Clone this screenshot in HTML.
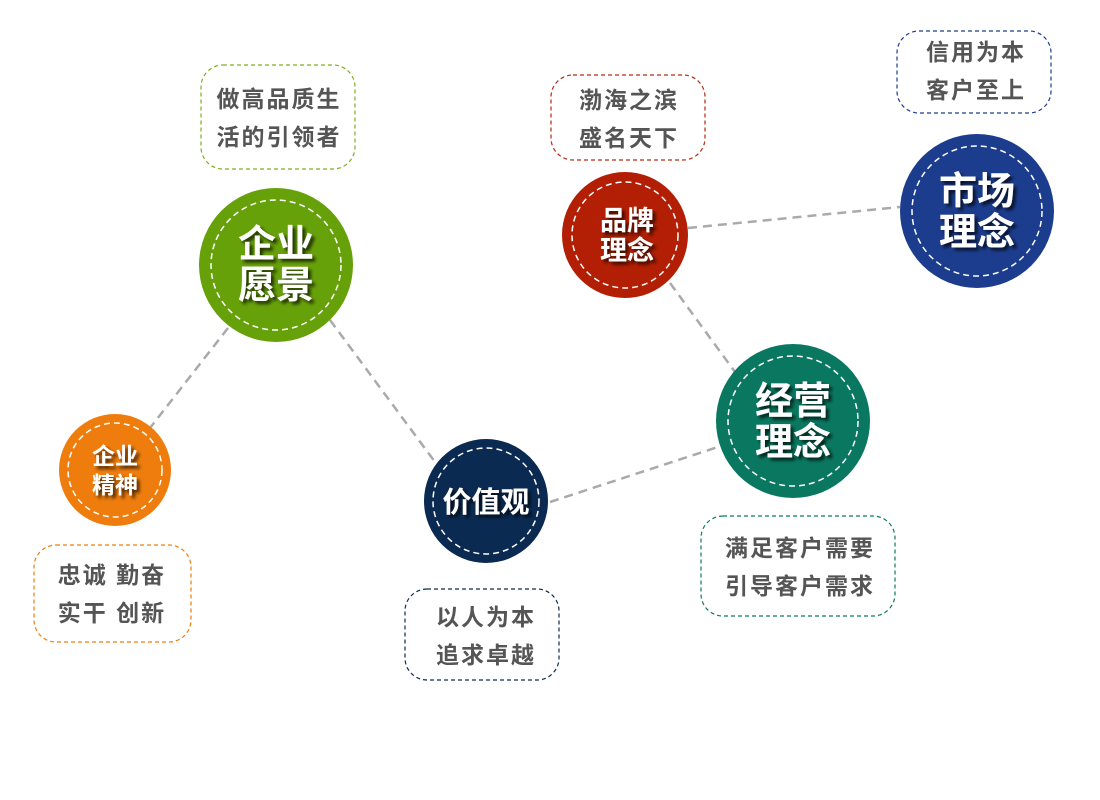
<!DOCTYPE html>
<html><head><meta charset="utf-8"><style>
html,body{margin:0;padding:0;background:#fff;width:1100px;height:800px;overflow:hidden}
svg{display:block}
.c{font-family:"Liberation Sans","Noto Sans CJK SC",sans-serif;font-weight:bold;fill:#fff;text-anchor:middle}
.b{font-family:"Liberation Sans","Noto Sans CJK SC",sans-serif;font-weight:bold;fill:#555;text-anchor:middle;font-size:23px;letter-spacing:2px}
</style></head><body>
<svg width="1100" height="800" viewBox="0 0 1100 800">
<defs><filter id="s" x="-20%" y="-20%" width="150%" height="150%"><feDropShadow dx="3" dy="3" stdDeviation="1.5" flood-color="#000" flood-opacity="0.7"/></filter></defs>
<g stroke="#aaa" stroke-width="2.5" stroke-dasharray="9,6" fill="none">
<line x1="228" y1="328" x2="150" y2="428"/>
<line x1="330" y1="320" x2="435" y2="462"/>
<line x1="550" y1="502" x2="718" y2="447"/>
<line x1="670" y1="283" x2="735" y2="372"/>
<line x1="688" y1="228" x2="900" y2="207"/>
</g>
<g fill="#fff" stroke-width="1.2" stroke-dasharray="4,3">
<rect x="201" y="65" width="154" height="104" rx="22" stroke="#7fae1e"/>
<rect x="551" y="75" width="154" height="85" rx="22" stroke="#b32a10"/>
<rect x="897" y="31" width="154" height="82" rx="22" stroke="#1a3c8f"/>
<rect x="34" y="545" width="157" height="97" rx="22" stroke="#ef7d0d"/>
<rect x="405" y="589" width="154" height="91" rx="22" stroke="#0b2a52"/>
<rect x="701" y="516" width="194" height="100" rx="22" stroke="#0a7a5e"/>
</g>
<text class="b" x="279" y="107">做高品质生</text><text class="b" x="279" y="145">活的引领者</text>
<text class="b" x="629" y="108">渤海之滨</text><text class="b" x="629" y="146">盛名天下</text>
<text class="b" x="976" y="60">信用为本</text><text class="b" x="976" y="98">客户至上</text>
<text class="b" x="112" y="583">忠诚 勤奋</text><text class="b" x="112" y="621">实干 创新</text>
<text class="b" x="486" y="625">以人为本</text><text class="b" x="486" y="663">追求卓越</text>
<text class="b" x="800" y="556">满足客户需要</text><text class="b" x="800" y="594">引导客户需求</text>
<g stroke="#fff" stroke-width="1.5" stroke-dasharray="6,4">
<circle cx="276" cy="265" r="77" fill="#67a10a" stroke="none"/><circle cx="276" cy="265" r="65" fill="none"/>
<circle cx="115" cy="470" r="56" fill="#ef7d0d" stroke="none"/><circle cx="115" cy="470" r="47" fill="none"/>
<circle cx="486" cy="501" r="62" fill="#0b2a52" stroke="none"/><circle cx="486" cy="501" r="53" fill="none"/>
<circle cx="625" cy="235" r="63" fill="#b21f04" stroke="none"/><circle cx="625" cy="235" r="53" fill="none"/>
<circle cx="977" cy="211" r="77" fill="#1c3d8e" stroke="none"/><circle cx="977" cy="211" r="65" fill="none"/>
<circle cx="793" cy="421" r="77" fill="#0a7860" stroke="none"/><circle cx="793" cy="421" r="65" fill="none"/>
</g>
<g filter="url(#s)">
<text class="c" x="276" y="257" font-size="38">企业</text><text class="c" x="276" y="298" font-size="38">愿景</text>
<text class="c" x="115" y="464" font-size="23">企业</text><text class="c" x="115" y="493" font-size="23">精神</text>
<text class="c" x="486" y="512" font-size="29">价值观</text>
<text class="c" x="627" y="230" font-size="27">品牌</text><text class="c" x="627" y="260" font-size="27">理念</text>
<text class="c" x="977" y="204" font-size="38">市场</text><text class="c" x="977" y="245" font-size="38">理念</text>
<text class="c" x="793" y="414" font-size="38">经营</text><text class="c" x="793" y="455" font-size="38">理念</text>
</g>
</svg>
</body></html>
